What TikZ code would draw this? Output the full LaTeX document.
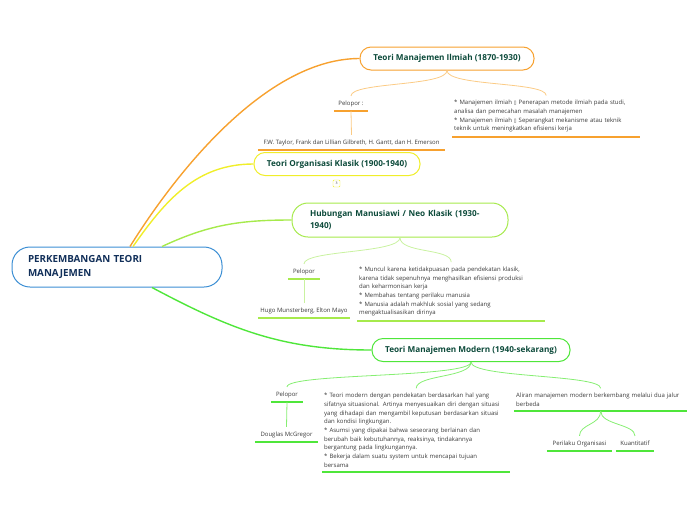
\documentclass[tikz,border=0pt]{standalone}
\usepackage{fontspec}
\setmainfont{Open Sans}
\newfontfamily\symfont{DejaVu Sans}
\definecolor{biru}{HTML}{3C8FD4}
\definecolor{oranye}{HTML}{F7A12F}
\definecolor{oranyemuda}{HTML}{FBCB85}
\definecolor{kuning}{HTML}{F0EE2A}
\definecolor{hijaumuda}{HTML}{A6EA4C}
\definecolor{hijaumudal}{HTML}{C9F2A0}
\definecolor{hijau}{HTML}{4FE63A}
\definecolor{hijaul}{HTML}{86EE72}
\definecolor{teks}{HTML}{3A3A3A}
\definecolor{judul}{HTML}{0C4A3A}
\definecolor{pusatwarna}{HTML}{12305A}
\newcommand{\kotak}{{\symfont\fontsize{5}{8.7}\selectfont ▯}}
\begin{document}
\begin{tikzpicture}[x=1pt, y=-1pt,
  every node/.style={font=\fontsize{6}{8.7}\selectfont, text=teks},
  topik/.style={draw=#1, fill=white, line width=1pt, rounded corners=11pt, minimum height=23pt, font=\fontsize{8.2}{12}\selectfont\bfseries, text=judul},
  garis/.style={append after command={(\tikzlastnode.south west) edge[draw=#1, line width=1.3pt] (\tikzlastnode.south east)}},
  butir/.style={garis=#1, anchor=south, inner xsep=0pt, inner ysep=4.5pt, text height=4.4pt, text depth=1.3pt},
  catatan/.style={garis=#1, anchor=south west, inner xsep=2pt, inner ysep=4.5pt, align=left},
  cabang/.style={draw=#1, line width=1.4pt},
  ranting/.style={draw=#1, line width=0.8pt}
]
\useasboundingbox (0,0) rectangle (696,520);

% pusat
\node[draw=biru, fill=white, line width=1pt, rounded corners=18pt, minimum height=40pt, inner xsep=16pt, text width=178pt, align=left, font=\fontsize{9.8}{14.5}\selectfont\bfseries, text=pusatwarna] (pusat) at (117,267) {PERKEMBANGAN TEORI\\MANAJEMEN};

% topik utama
\node[topik=oranye, minimum width=174pt] (ilmiah) at (447,58.5) {Teori Manajemen Ilmiah (1870-1930)};
\node[topik=kuning, minimum width=166pt] (klasik) at (337,164) {Teori Organisasi Klasik (1900-1940)};
\node[draw=kuning, rounded corners=1pt, minimum size=7pt, inner sep=0pt, font=\fontsize{3.5}{4}\selectfont] (jumlah) at (336.5,183.5) {3};
\node[topik=hijaumuda, rounded corners=16pt, minimum height=34pt, inner xsep=18pt, text width=180pt, align=left] (neo) at (400,220) {Hubungan Manusiawi / Neo Klasik (1930-\\1940)};
\node[topik=hijau, minimum width=198pt] (modern) at (471,350) {Teori Manajemen Modern (1940-sekarang)};

\draw[cabang=oranye] ([xshift=13pt]pusat.north) .. controls +(55,-88) and +(-87,0) .. (ilmiah.west);
\draw[cabang=kuning] ([xshift=16pt]pusat.north) to[out=55, in=180] (klasik.west);
\draw[cabang=hijaumuda] ([xshift=45pt]pusat.north) to[out=25, in=180] (neo.west);
\draw[cabang=hijau] ([xshift=35pt]pusat.south) to[out=-28, in=180] (modern.west);

% manajemen ilmiah
\node[butir=oranye, minimum width=34pt] (pel1) at (351,111) {Pelopor :};
\node[butir=oranye, minimum width=187pt] (tokoh1) at (351.5,150) {F.W. Taylor, Frank dan Lillian Gilbreth, H. Gantt, dan H. Emerson};
\node[catatan=oranye, text width=184pt] (isi1) at (452,137) {* Manajemen ilmiah \kotak{} Penerapan metode ilmiah pada studi,\\analisa dan pemecahan masalah manajemen\\{}* Manajemen ilmiah \kotak{} Seperangkat mekanisme atau teknik\\teknik untuk meningkatkan efisiensi kerja};
\draw[ranting=oranyemuda] (ilmiah.south) .. controls +(0,16) and +(0,-14) .. (pel1.north);
\draw[ranting=oranyemuda] (ilmiah.south) .. controls +(0,16) and +(0,-14) .. (isi1.north);
\draw[ranting=oranyemuda] (pel1.south) -- (tokoh1.north);

% neo klasik
\node[butir=hijaumuda, minimum width=32pt] (pel3) at (304,279) {Pelopor};
\node[butir=hijaumuda, minimum width=92pt] (tokoh3) at (304,318) {Hugo Munsterberg, Elton Mayo};
\node[catatan=hijaumuda, text width=184pt] (isi3) at (357,321) {* Muncul karena ketidakpuasan pada pendekatan klasik,\\karena tidak sepenuhnya menghasilkan efisiensi produksi\\dan keharmonisan kerja\\{}* Membahas tentang perilaku manusia\\{}* Manusia adalah makhluk sosial yang sedang\\mengaktualisasikan dirinya};
\draw[ranting=hijaumudal] (neo.south) .. controls +(0,16) and +(0,-14) .. (pel3.north);
\draw[ranting=hijaumudal] (neo.south) .. controls +(0,16) and +(0,-14) .. (isi3.north);
\draw[ranting=hijaumudal] (pel3.south) -- (tokoh3.north);

% manajemen modern
\node[butir=hijau, minimum width=31pt] (pel4) at (287,402) {Pelopor};
\node[butir=hijau, minimum width=63pt] (tokoh4) at (286.5,442) {Douglas McGregor};
\node[catatan=hijau, text width=184pt] (isi4) at (322,472) {* Teori modern dengan pendekatan berdasarkan hal yang\\sifatnya situasional. Artinya menyesuaikan diri dengan situasi\\yang dihadapi dan mengambil keputusan berdasarkan situasi\\dan kondisi lingkungan.\\{}* Asumsi yang dipakai bahwa seseorang berlainan dan\\berubah baik kebutuhannya, reaksinya, tindakannya\\bergantung pada lingkungannya.\\{}* Bekerja dalam suatu system untuk mencapai tujuan\\bersama};
\node[catatan=hijau, text width=169pt] (aliran) at (514,411) {Aliran manajemen modern berkembang melalui dua jalur\\berbeda};
\node[butir=hijau, minimum width=65pt] (perilaku) at (579.5,451) {Perilaku Organisasi};
\node[butir=hijau, minimum width=38pt] (kuantitatif) at (635,451) {Kuantitatif};
\draw[ranting=hijaul] (modern.south) .. controls +(0,16) and +(0,-14) .. (pel4.north);
\draw[ranting=hijaul] (modern.south) .. controls +(0,16) and +(0,-14) .. (isi4.north);
\draw[ranting=hijaul] (modern.south) .. controls +(0,16) and +(0,-14) .. (aliran.north);
\draw[ranting=hijaul] (pel4.south) -- (tokoh4.north);
\draw[ranting=hijaul] (aliran.south) .. controls +(0,14) and +(0,-12) .. (perilaku.north);
\draw[ranting=hijaul] (aliran.south) .. controls +(0,14) and +(0,-12) .. (kuantitatif.north);
\end{tikzpicture}
\end{document}
